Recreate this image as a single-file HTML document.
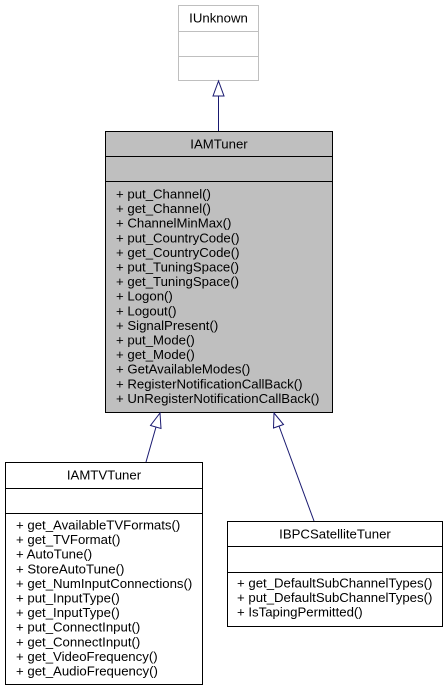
<!DOCTYPE html>
<html><head><meta charset="utf-8"><style>
html,body{margin:0;padding:0;background:#fff;}
svg{display:block;}
text{font-family:"Liberation Sans",Helvetica,sans-serif;font-size:13.2px;fill:#000;}
</style></head><body>
<svg width="448" height="691" viewBox="0 0 448 691" xmlns="http://www.w3.org/2000/svg">
<rect x="178.5" y="5.5" width="80" height="75" fill="#fff" stroke="#bfbfbf"/>
<line x1="178.5" y1="31.5" x2="258.5" y2="31.5" stroke="#bfbfbf"/>
<line x1="178.5" y1="56.5" x2="258.5" y2="56.5" stroke="#bfbfbf"/>
<text x="218.5" y="22.5" text-anchor="middle">IUnknown</text>
<line x1="218.5" y1="131" x2="218.5" y2="96" stroke="#191970"/>
<polygon points="218.5,81 213,96 224,96" fill="#fff" stroke="#191970"/>
<rect x="105.5" y="131.5" width="227" height="281" fill="#bfbfbf" stroke="#000"/>
<line x1="105.5" y1="156.5" x2="332.5" y2="156.5" stroke="#000"/>
<line x1="105.5" y1="181.5" x2="332.5" y2="181.5" stroke="#000"/>
<text x="219" y="148.5" text-anchor="middle">IAMTuner</text>
<g>
<text x="116" y="198.5">+ put_Channel()</text>
<text x="116" y="213.1">+ get_Channel()</text>
<text x="116" y="227.7">+ ChannelMinMax()</text>
<text x="116" y="242.3">+ put_CountryCode()</text>
<text x="116" y="256.9">+ get_CountryCode()</text>
<text x="116" y="271.5">+ put_TuningSpace()</text>
<text x="116" y="286.1">+ get_TuningSpace()</text>
<text x="116" y="300.7">+ Logon()</text>
<text x="116" y="315.3">+ Logout()</text>
<text x="116" y="329.9">+ SignalPresent()</text>
<text x="116" y="344.5">+ put_Mode()</text>
<text x="116" y="359.1">+ get_Mode()</text>
<text x="116" y="373.7">+ GetAvailableModes()</text>
<text x="116" y="388.3">+ RegisterNotificationCallBack()</text>
<text x="116" y="402.9">+ UnRegisterNotificationCallBack()</text>
</g>
<line x1="146" y1="462" x2="156" y2="427" stroke="#191970"/>
<polygon points="160,413 150.5,425.5 161,428.5" fill="#fff" stroke="#191970"/>
<line x1="314" y1="521" x2="279" y2="426" stroke="#191970"/>
<polygon points="274,413 273.5,428 283.5,424.5" fill="#fff" stroke="#191970"/>
<rect x="5.5" y="462.5" width="197" height="222" fill="#fff" stroke="#000"/>
<line x1="5.5" y1="488.5" x2="202.5" y2="488.5" stroke="#000"/>
<line x1="5.5" y1="513.5" x2="202.5" y2="513.5" stroke="#000"/>
<text x="104" y="479.5" text-anchor="middle">IAMTVTuner</text>
<g>
<text x="16" y="529.5">+ get_AvailableTVFormats()</text>
<text x="16" y="544.1">+ get_TVFormat()</text>
<text x="16" y="558.7">+ AutoTune()</text>
<text x="16" y="573.3">+ StoreAutoTune()</text>
<text x="16" y="587.9">+ get_NumInputConnections()</text>
<text x="16" y="602.5">+ put_InputType()</text>
<text x="16" y="617.1">+ get_InputType()</text>
<text x="16" y="631.7">+ put_ConnectInput()</text>
<text x="16" y="646.3">+ get_ConnectInput()</text>
<text x="16" y="660.9">+ get_VideoFrequency()</text>
<text x="16" y="675.5">+ get_AudioFrequency()</text>
</g>
<rect x="227.5" y="521.5" width="215" height="105" fill="#fff" stroke="#000"/>
<line x1="227.5" y1="546.5" x2="442.5" y2="546.5" stroke="#000"/>
<line x1="227.5" y1="572.5" x2="442.5" y2="572.5" stroke="#000"/>
<text x="335" y="538.5" text-anchor="middle">IBPCSatelliteTuner</text>
<text x="237" y="587.5">+ get_DefaultSubChannelTypes()</text>
<text x="237" y="602.1">+ put_DefaultSubChannelTypes()</text>
<text x="237" y="616.7">+ IsTapingPermitted()</text>
</svg>
</body></html>
